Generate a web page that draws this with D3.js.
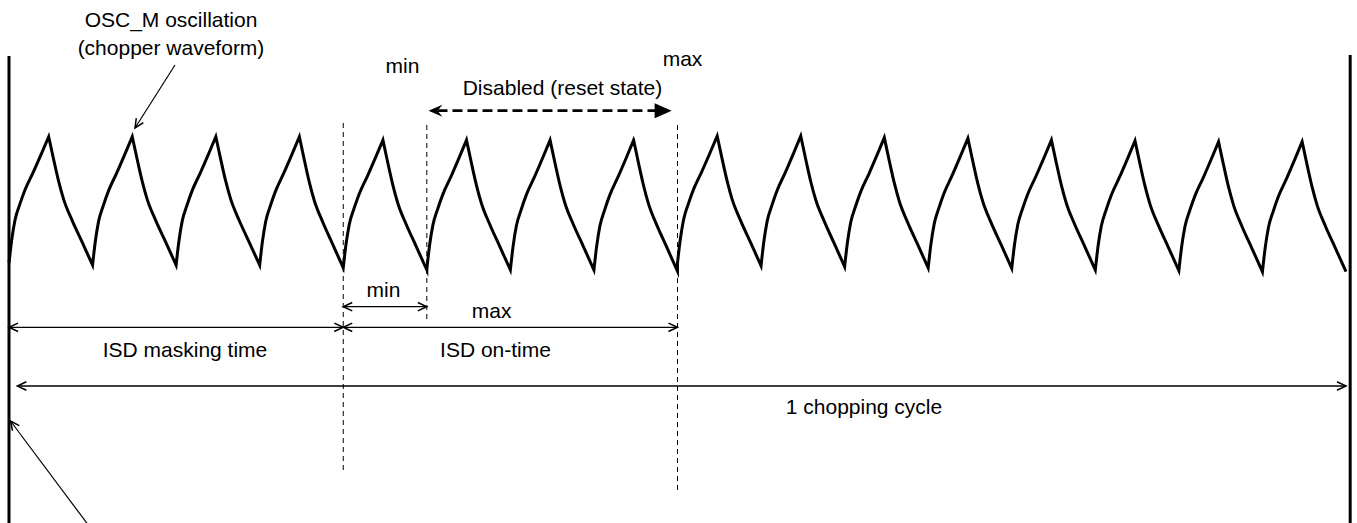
<!DOCTYPE html>
<html><head><meta charset="utf-8">
<script src="https://cdn.jsdelivr.net/npm/d3@7"></script>
<style>
html,body{margin:0;padding:0;background:#fff;}
svg{display:block;}
text{font-family:"Liberation Sans",Arial,Helvetica,sans-serif;font-size:21px;fill:#000;}
</style>
</head><body>
<svg id="chart" width="1357" height="523"></svg>
<script>
// ---- data (time in chopper periods, level normalised 0..1) ----
const cycleStartLevel = [0.066,0.051,0.051,0.050,0.030,0.020,0.015,0.015,0.065,0.046,0.039,0.030,0.027,0.015,0.010,0.002];
const cyclePeakLevel  = [0.995,0.995,0.995,0.995,0.970,0.970,0.970,0.970,1.000,1.000,0.988,0.983,0.970,0.965,0.958,0.958];
const cycleEndLevel   = [0.051,0.051,0.050,0.030,0.015,0.015,0.015,0.005,0.046,0.039,0.030,0.027,0.015,0.010,0.002,0.002];
// one period: charging (rise) and discharging (fall) shape, [fraction of period, fraction of swing]
const riseShape = [[0,0],[0.032,0.18],[0.072,0.34],[0.132,0.47],[0.192,0.58],[0.291,0.72],[0.391,0.87],[0.475,1]];
const fallShape = [[0.475,1],[0.535,0.82],[0.595,0.65],[0.655,0.51],[0.754,0.35],[0.874,0.18],[1,0]];
// timing marks (periods)
const tStart = 0, tMaskEnd = 4, tOnMin = 5, tOnMax = 8, tCycleEnd = 16, tFrameEnd = 16.05;
const tChopArrowStart = 0.1;
const disabledSpan = [5.02, 7.93];
// texts
const oscLabel = ["OSC_M oscillation", "(chopper waveform)"];
const spanLabels = {mask:"ISD masking time", on:"ISD on-time", min:"min", max:"max", cycle:"1 chopping cycle", disabled:"Disabled (reset state)"};

// ---- drawing ----
const svg = d3.select("#chart");
const x = d3.scaleLinear().domain([0,16]).range([9,1346]);
const y = d3.scaleLinear().domain([0,1]).range([272,136]);

function head(px, py, ang, kind){
  const g = svg.append("g").attr("transform",`translate(${px},${py}) rotate(${ang})`);
  if(kind==="open") g.append("path").attr("d","M-9,-4.2L0,0L-9,4.2").attr("fill","none").attr("stroke","#000").attr("stroke-width",1.5);
  else if(kind==="tri") g.append("path").attr("d","M-17,-7.5L0,0L-17,7.5Z").attr("fill","#000");
  else if(kind==="notch") g.append("path").attr("d","M-14,-6L0,0L-14,6L-9,0Z").attr("fill","#000");
}
function hArrow(t1, t2, yy){
  svg.append("line").attr("x1",x(t1)).attr("x2",x(t2)).attr("y1",yy).attr("y2",yy)
    .attr("stroke","#000").attr("stroke-width",1.3);
  head(x(t1), yy, 180, "open");
  head(x(t2), yy, 0, "open");
}
function label(txt, cx, by){
  svg.append("text").attr("x",cx).attr("y",by).attr("text-anchor","middle").text(txt);
}

// frame lines
svg.append("line").attr("x1",x(tStart)).attr("x2",x(tStart)).attr("y1",56).attr("y2",523).attr("stroke","#000").attr("stroke-width",3);
svg.append("line").attr("x1",x(tFrameEnd)).attr("x2",x(tFrameEnd)).attr("y1",55).attr("y2",523).attr("stroke","#000").attr("stroke-width",3);

// dashed markers
[[tMaskEnd,123,471],[tOnMin,125,321],[tOnMax,125,490]].forEach(([t,y1,y2])=>{
  svg.append("line").attr("x1",x(t)).attr("x2",x(t)).attr("y1",y1).attr("y2",y2)
    .attr("stroke","#000").attr("stroke-width",1).attr("stroke-dasharray","5,4");
});

// waveform
const line = d3.line().x(d=>x(d[0])).y(d=>y(d[1])).curve(d3.curveMonotoneX);
let dPath = "", last = null;
cycleStartLevel.forEach((s,i)=>{
  const p = cyclePeakLevel[i], e = cycleEndLevel[i];
  const rise = riseShape.map(([f,u])=>[i+f, s+(p-s)*u]);
  const fall = fallShape.map(([f,u])=>[i+f, e+(p-e)*u]);
  [rise, fall].forEach(seg=>{
    const sd = line(seg);
    if(!dPath) dPath = sd;
    else if(last && Math.abs(last[1]-seg[0][1])<1e-9) dPath += sd.replace(/^M[^A-Za-z]*/,"");
    else dPath += sd.replace(/^M/,"L");
    last = seg[seg.length-1];
  });
});
svg.append("path").attr("d",dPath).attr("fill","none").attr("stroke","#000")
  .attr("stroke-width",3).attr("stroke-linejoin","miter").attr("stroke-miterlimit",6);

// OSC label + pointer
label(oscLabel[0], 171, 27);
label(oscLabel[1], 171, 55);
svg.append("line").attr("x1",175).attr("y1",65).attr("x2",135).attr("y2",128).attr("stroke","#000").attr("stroke-width",1.2);
head(135,128, Math.atan2(128-65,135-175)*180/Math.PI, "open");

// top labels
label(spanLabels.min, 402.5, 73);
label(spanLabels.max, 682.5, 66);
label(spanLabels.disabled, 562.5, 95);

// disabled dashed arrow
const dy = 110.7;
svg.append("line").attr("x1",x(disabledSpan[0])+9).attr("x2",x(disabledSpan[1])-15).attr("y1",dy).attr("y2",dy)
  .attr("stroke","#000").attr("stroke-width",2.7).attr("stroke-dasharray","10,5");
head(x(disabledSpan[0]), dy, 180, "notch");
head(x(disabledSpan[1]), dy, 0, "tri");

// span arrows
hArrow(tMaskEnd, tOnMin, 306.7);
label(spanLabels.min, 383.5, 296.5);
hArrow(tStart, tMaskEnd, 327.3);
hArrow(tMaskEnd, tOnMax, 327.3);
label(spanLabels.max, 491.7, 318.3);
label(spanLabels.mask, 185, 356.7);
label(spanLabels.on, 495.5, 356.7);
hArrow(tChopArrowStart, tCycleEnd, 386);
label(spanLabels.cycle, 864, 414);

// bottom-left pointer
svg.append("line").attr("x1",95).attr("y1",534).attr("x2",10.5).attr("y2",421).attr("stroke","#000").attr("stroke-width",1.2);
head(10.5,421, Math.atan2(421-534,10.5-95)*180/Math.PI, "open");
</script>
</body></html>
